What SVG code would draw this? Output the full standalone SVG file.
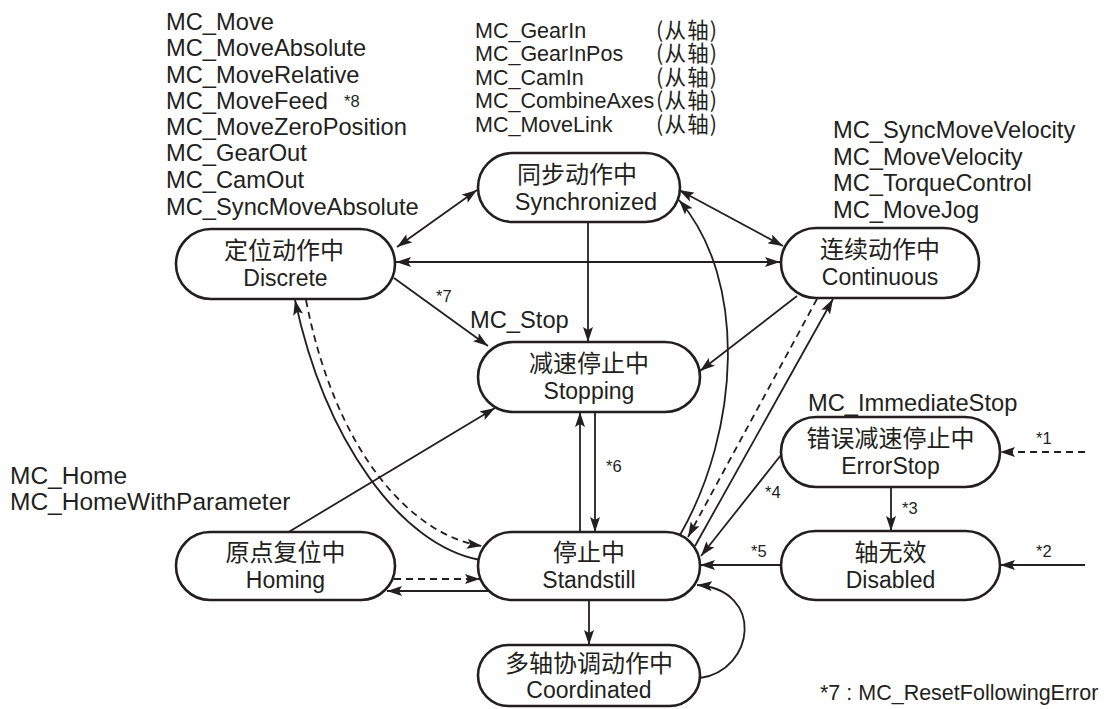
<svg xmlns="http://www.w3.org/2000/svg" width="1110" height="709" viewBox="0 0 1110 709">
  <defs>
    <marker id="ah" viewBox="0 0 15 10" refX="15" refY="5" markerWidth="15" markerHeight="10" markerUnits="userSpaceOnUse" orient="auto-start-reverse">
      <path d="M0,0 L15,5 L0,10 L3,5 Z" fill="#231f20"/>
    </marker>
  </defs>
  <style>
    text { font-family: "Liberation Sans", "Noto Sans CJK SC", Arial, sans-serif; fill: #231f20; }
    .lbl { font-size: 23.7px; }
    .sm { font-size: 16.5px; }
    .node rect { fill: #ffffff; stroke: #231f20; stroke-width: 2.6; }
    .node text { font-size: 23px; text-anchor: middle; }
    .node text.cjk { font-size: 24px; }
    .cjk { font-family: "Noto Sans CJK SC", "Liberation Sans", sans-serif; }
    .slave { font-size: 21.5px; letter-spacing: 1.2px; }
    .ln { fill: none; stroke: #231f20; stroke-width: 1.8; }
    .dash { stroke-dasharray: 7 5; }
  </style>
  <rect width="1110" height="709" fill="#ffffff"/>

  <!-- connectors -->
  <g id="connectors">
    <line class="ln" x1="397" y1="247" x2="477" y2="190" marker-start="url(#ah)" marker-end="url(#ah)"/>
    <line class="ln" x1="679" y1="190" x2="783" y2="246" marker-start="url(#ah)" marker-end="url(#ah)"/>
    <line class="ln" x1="396" y1="262" x2="780" y2="262" marker-start="url(#ah)" marker-end="url(#ah)"/>
    <line class="ln" x1="394" y1="278" x2="488" y2="346" marker-end="url(#ah)"/>
    <line class="ln" x1="588" y1="222" x2="588" y2="342" marker-end="url(#ah)"/>
    <line class="ln" x1="797" y1="296" x2="700" y2="371" marker-end="url(#ah)"/>
    <line class="ln" x1="287" y1="533" x2="495" y2="408" marker-end="url(#ah)"/>
    <path class="ln" d="M480,560 C400,545 325,440 295,300" marker-end="url(#ah)"/>
    <path class="ln dash" d="M306,300 C335,450 410,535 482,546" marker-end="url(#ah)"/>
    <line class="ln" x1="580" y1="532" x2="580" y2="412" marker-end="url(#ah)"/>
    <line class="ln" x1="595" y1="412" x2="595" y2="532" marker-end="url(#ah)"/>
    <path class="ln" d="M680,535 C740,430 748,280 679,200" marker-end="url(#ah)"/>
    <line class="ln dash" x1="817" y1="299" x2="688" y2="537" marker-end="url(#ah)"/>
    <line class="ln" x1="695" y1="546" x2="833" y2="299" marker-end="url(#ah)"/>
    <line class="ln" x1="781" y1="455" x2="701" y2="556" marker-end="url(#ah)"/>
    <line class="ln" x1="781" y1="565" x2="700" y2="565" marker-end="url(#ah)"/>
    <line class="ln" x1="891" y1="487" x2="891" y2="531" marker-end="url(#ah)"/>
    <line class="ln dash" x1="1085" y1="452" x2="1000" y2="452" marker-end="url(#ah)"/>
    <line class="ln" x1="1085" y1="565" x2="1000" y2="565" marker-end="url(#ah)"/>
    <line class="ln dash" x1="394" y1="579" x2="480" y2="579" marker-end="url(#ah)"/>
    <line class="ln" x1="488" y1="591" x2="387" y2="591" marker-end="url(#ah)"/>
    <line class="ln" x1="589" y1="600" x2="589" y2="645" marker-end="url(#ah)"/>
    <path class="ln" d="M700,678 C755,670 765,590 697,585" marker-end="url(#ah)"/>
  </g>

  <!-- states -->
  <g id="discrete" class="node">
    <rect x="176" y="229" width="219" height="70" rx="35"/>
    <text class="cjk" x="284" y="259">定位动作中</text>
    <text x="285.5" y="286">Discrete</text>
  </g>
  <g id="synchronized" class="node">
    <rect x="478" y="153" width="202" height="69" rx="34.5"/>
    <text class="cjk" x="577" y="183">同步动作中</text>
    <text x="586" y="210" style="font-size:23.5px">Synchronized</text>
  </g>
  <g id="continuous" class="node">
    <rect x="781" y="228" width="198" height="70" rx="35"/>
    <text class="cjk" x="880" y="258">连续动作中</text>
    <text x="880" y="285">Continuous</text>
  </g>
  <g id="stopping" class="node">
    <rect x="478" y="342" width="222" height="70" rx="35"/>
    <text class="cjk" x="589" y="372">减速停止中</text>
    <text x="589" y="399">Stopping</text>
  </g>
  <g id="errorstop" class="node">
    <rect x="781" y="417" width="219" height="70" rx="35"/>
    <text class="cjk" x="890.5" y="447">错误减速停止中</text>
    <text x="890.5" y="474">ErrorStop</text>
  </g>
  <g id="disabled" class="node">
    <rect x="781" y="531" width="219" height="69" rx="34.5"/>
    <text class="cjk" x="890.5" y="561">轴无效</text>
    <text x="890.5" y="588">Disabled</text>
  </g>
  <g id="homing" class="node">
    <rect x="176" y="532" width="219" height="68" rx="34"/>
    <text class="cjk" x="285.5" y="561">原点复位中</text>
    <text x="285.5" y="588">Homing</text>
  </g>
  <g id="standstill" class="node">
    <rect x="478" y="532" width="222" height="68" rx="34"/>
    <text class="cjk" x="589" y="561">停止中</text>
    <text x="589" y="588">Standstill</text>
  </g>
  <g id="coordinated" class="node">
    <rect x="478" y="645" width="222" height="61" rx="30.5"/>
    <text class="cjk" x="589" y="672">多轴协调动作中</text>
    <text x="589" y="698">Coordinated</text>
  </g>

  <!-- instruction lists -->
  <g id="discrete-cmds" class="lbl">
    <text x="166" y="30">MC_Move</text>
    <text x="166" y="56">MC_MoveAbsolute</text>
    <text x="166" y="83">MC_MoveRelative</text>
    <text x="166" y="109">MC_MoveFeed</text>
    <text x="166" y="135">MC_MoveZeroPosition</text>
    <text x="166" y="161">MC_GearOut</text>
    <text x="166" y="188">MC_CamOut</text>
    <text x="166" y="215">MC_SyncMoveAbsolute</text>
  </g>
  <text class="sm" x="344" y="107">*8</text>

  <g id="sync-cmds" style="font-size:21.5px">
    <text x="475" y="38">MC_GearIn</text>
    <text x="475" y="61">MC_GearInPos</text>
    <text x="475" y="85">MC_CamIn</text>
    <text x="475" y="108">MC_CombineAxes</text>
    <text x="475" y="132">MC_MoveLink</text>
    <text class="cjk slave" x="656" y="38">(从轴)</text>
    <text class="cjk slave" x="656" y="61">(从轴)</text>
    <text class="cjk slave" x="656" y="85">(从轴)</text>
    <text class="cjk slave" x="656" y="108">(从轴)</text>
    <text class="cjk slave" x="656" y="132">(从轴)</text>
  </g>

  <g id="cont-cmds" class="lbl">
    <text x="833" y="138">MC_SyncMoveVelocity</text>
    <text x="833" y="165">MC_MoveVelocity</text>
    <text x="833" y="191">MC_TorqueControl</text>
    <text x="833" y="218">MC_MoveJog</text>
  </g>

  <g id="home-cmds" style="font-size:24.5px">
    <text x="10" y="484">MC_Home</text>
    <text x="10" y="510">MC_HomeWithParameter</text>
  </g>

  <text class="lbl" x="470" y="328">MC_Stop</text>
  <text class="lbl" x="808" y="411">MC_ImmediateStop</text>

  <!-- footnote marks -->
  <text class="sm" x="436" y="302">*7</text>
  <text class="sm" x="1036" y="444">*1</text>
  <text class="sm" x="1036" y="557">*2</text>
  <text class="sm" x="902" y="514">*3</text>
  <text class="sm" x="765" y="498">*4</text>
  <text class="sm" x="751" y="557">*5</text>
  <text class="sm" x="606" y="472">*6</text>

  <text x="820" y="700" style="font-size:21.5px">*7 : MC_ResetFollowingError</text>
</svg>
